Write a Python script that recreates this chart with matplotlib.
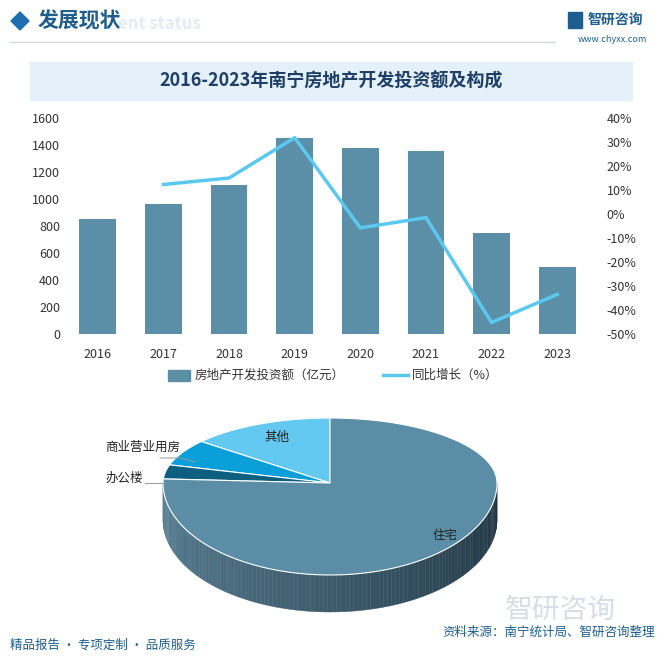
import numpy as np
import matplotlib
matplotlib.use("Agg")
import matplotlib.pyplot as plt
from matplotlib.patches import Polygon, Rectangle
import matplotlib.colors as mc

plt.rcParams['font.family'] = ['Noto Sans CJK SC', 'DejaVu Sans']

years = ['2016', '2017', '2018', '2019', '2020', '2021', '2022', '2023']
invest = [855, 960, 1105, 1455, 1375, 1355, 745, 495]
growth = [None, 12.3, 15.0, 31.8, -5.8, -1.5, -45.2, -33.5]
pie_labels = ['其他', '商业营业用房', '办公楼', '住宅']
pie_values = [14.0, 6.5, 3.5, 76.0]
pie_colors = ['#63c9f1', '#0a9fd8', '#0d5f7f', '#5b8ea6']

W, H = 666, 663
fig = plt.figure(figsize=(W/100, H/100), dpi=100)
bg = fig.add_axes([0, 0, 1, 1])
bg.set_xlim(0, W); bg.set_ylim(H, 0); bg.axis('off')

# header
bg.add_patch(Polygon([[20, 12], [29, 21], [20, 30], [11, 21]], color='#1f6fb0'))
bg.text(38, 21, '发展现状', fontsize=15, fontweight='bold', color='#1f5e8c', va='center')
bg.text(118, 24, 'ent status', fontsize=12, fontweight='bold', color='#e3ecf3', va='center')
bg.plot([10, 555], [42, 42], color='#d0d8e0', lw=1)
bg.text(588, 20, '智研咨询', fontsize=10, fontweight='bold', color='#1f5e8c', va='center')
bg.add_patch(Rectangle((568, 12), 14, 16, color='#1f5e8c'))
bg.text(612, 39, 'www.chyxx.com', fontsize=6.5, color='#1f5e8c', va='center', ha='center')

# title band
bg.add_patch(Rectangle((30, 62), 602, 38, color='#e4f1fa'))
bg.text(331, 81, '2016-2023年南宁房地产开发投资额及构成', fontsize=13, fontweight='bold',
        color='#1f3f66', ha='center', va='center')

# bar chart
ax = fig.add_axes([65/W, 1-334/H, 525/W, 216/H])
x = np.arange(len(years))
ax.bar(x, invest, width=0.56, color='#5b8fa8')
ax.set_ylim(0, 1600); ax.set_yticks(range(0, 1601, 200))
ax.set_xlim(-0.5, len(years)-0.5)
ax.set_xticks(x); ax.set_xticklabels(years)
for s in ax.spines.values(): s.set_visible(False)
ax.tick_params(length=0, labelsize=9, colors='#333333')
ax.tick_params(axis='x', pad=10)
ax2 = ax.twinx()
gx = [i for i, g in enumerate(growth) if g is not None]
gy = [g for g in growth if g is not None]
ax2.plot(gx, gy, color='#5bc8f0', lw=2.5)
ax2.set_ylim(-50, 40); ax2.set_yticks(range(-50, 41, 10))
ax2.set_yticklabels([f'{v}%' for v in range(-50, 41, 10)])
for s in ax2.spines.values(): s.set_visible(False)
ax2.tick_params(length=0, labelsize=9, colors='#333333', pad=12)

# legend
bg.add_patch(Rectangle((168, 370), 22, 11, color='#5b8fa8'))
bg.text(195, 375, '房地产开发投资额（亿元）', fontsize=9, va='center', color='#333')
bg.plot([383, 408], [375, 375], color='#5bc8f0', lw=2.5)
bg.text(412, 375, '同比增长（%）', fontsize=9, va='center', color='#333')

# 3D pie (perspective: shallower above centre, deeper below)
cx, cy, rx, ry_up, ry_dn, dep = 330, 483, 167, 65, 92, 37
def pt(a, dy=0):
    r = np.radians(a)
    s = np.sin(r)
    ry = ry_up if s > 0 else ry_dn
    return cx + rx*np.cos(r), cy - ry*s + dy
tot = sum(pie_values)
ang = 90.0
spans = []
for v in pie_values:
    a2 = ang + v/tot*360
    spans.append((ang, a2)); ang = a2
side_l = np.array(mc.to_rgb('#5a8296')); side_r = np.array(mc.to_rgb('#1e323f'))
for (a1, a2), col in zip(spans, pie_colors):
    for lo, hi in [(180, 360), (540, 720)]:
        s, e = max(a1, lo), min(a2, hi)
        if e <= s: continue
        steps = np.linspace(s, e, int((e-s)/1.5)+2)
        for b1, b2 in zip(steps[:-1], steps[1:]):
            t = ((b1 % 360) - 180)/180
            c = side_l*(1-t) + side_r*t
            if col != pie_colors[3]:
                c = np.array(mc.to_rgb(col))*0.6
            p = [pt(b1), pt(b2), pt(b2, dep), pt(b1, dep)]
            bg.add_patch(Polygon(p, color=c, lw=0.3))
for (a1, a2), col in zip(spans, pie_colors):
    arc = [pt(a) for a in np.linspace(a1, a2, 160)]
    bg.add_patch(Polygon([(cx, cy)] + arc, facecolor=col, edgecolor='white', lw=0.8))
bg.text(445, 535, '住宅', fontsize=9, color='#222', ha='center', va='center')
bg.text(277, 437, '其他', fontsize=9, color='#222', ha='center', va='center')
bg.text(105, 447, '商业营业用房', fontsize=9, color='#222', va='center')
bg.plot([160, 180, 195], [458, 458, 462], color='#999', lw=0.7)
bg.text(105, 478, '办公楼', fontsize=9, color='#222', va='center')
bg.plot([145, 165], [483, 483], color='#999', lw=0.7)

# footer
bg.text(10, 645, '精品报告 · 专项定制 · 品质服务', fontsize=9, color='#1f5e8c', va='center')
bg.text(655, 632, '资料来源：南宁统计局、智研咨询整理', fontsize=9, color='#1f5e8c', va='center', ha='right')
bg.text(560, 610, '智研咨询', fontsize=20, color='#c9d6e2', va='center', ha='center', alpha=0.8)

fig.savefig('out.png', dpi=100)
